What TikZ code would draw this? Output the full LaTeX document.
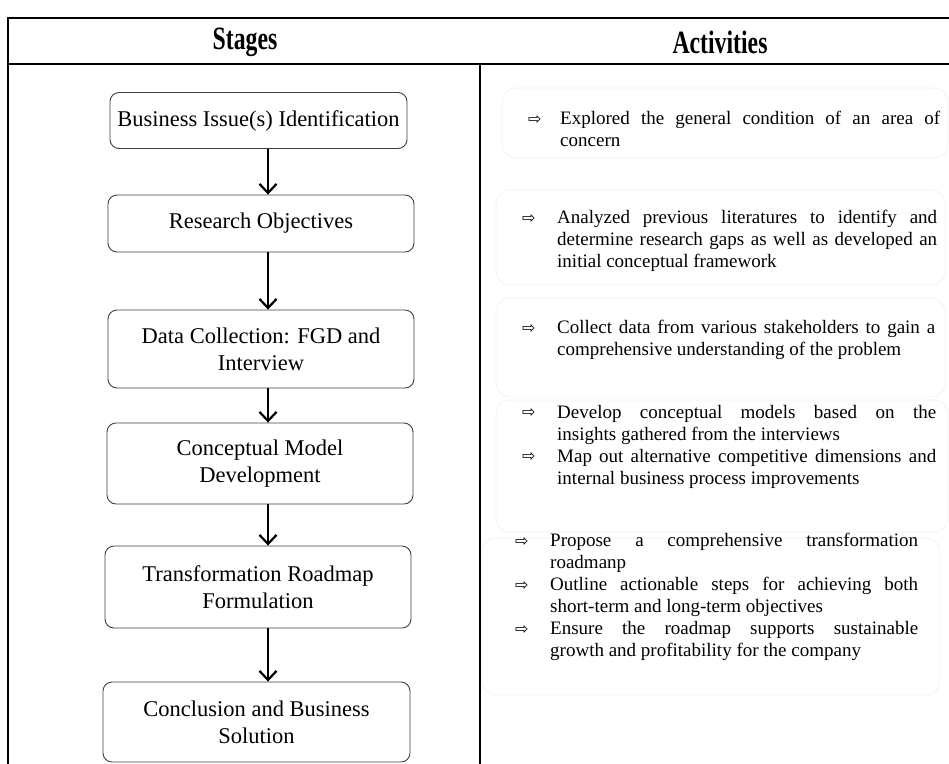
\documentclass[tikz,border=0pt]{standalone}
\usepackage{fontspec}
\setmainfont{Liberation Serif}
\newfontfamily\symfont{DejaVu Sans}
\usetikzlibrary{arrows.meta}
\newcommand{\actitem}[2]{\noindent\hangindent=#1pt\hangafter=1\makebox[#1pt][l]{\raisebox{0.5pt}{\symfont\fontsize{16}{16}\selectfont\symbol{"21E8}}}#2\par}
\begin{document}
\begin{tikzpicture}[x=1pt,y=-1pt,
  stagebox/.style={draw=black!75, line width=0.9pt, rounded corners=9pt, align=center,
    font=\fontsize{22.5}{27}\selectfont, inner sep=0pt},
  flow/.style={-{Straight Barb[length=9pt,width=17pt,line width=2.2pt]}, line width=2.6pt},
  actbox/.style={draw=black!5, line width=0.8pt, rounded corners=14pt},
  acttext/.style={anchor=north west, inner sep=0pt, align=justify,
    font=\fontsize{19}{22}\selectfont},
  head/.style={font=\fontsize{25}{30}\selectfont\bfseries, inner sep=0pt}
]
\useasboundingbox (0,0) rectangle (949,763);
\fill[white] (0,0) rectangle (949,763);

% table frame
\draw[line width=2pt] (960,18) -- (8,18) -- (8,770);
\draw[line width=2.5pt] (8,64) -- (960,64);
\draw[line width=2.5pt] (480,64) -- (480,770);

\node[head] (hs) at (245,42) {\scalebox{0.95}[1.3]{Stages}};
\node[head] (ha) at (720,42) {\scalebox{0.95}[1.3]{Activities}};

% stages
\node[stagebox, minimum width=297pt, minimum height=56pt] (b1) at (258.5,120.5) {Business Issue(s) Identification};
\node[stagebox, minimum width=306pt, minimum height=57pt] (b2) at (261,223.5) {Research Objectives};
\node[stagebox, minimum width=306pt, minimum height=78pt] (b3) at (261,349) {Data Collection: FGD and\\Interview};
\node[stagebox, minimum width=306pt, minimum height=81pt] (b4) at (260,463.5) {Conceptual Model\\Development};
\node[stagebox, minimum width=306pt, minimum height=82pt] (b5) at (258,587) {Transformation Roadmap\\Formulation};
\node[stagebox, minimum width=307pt, minimum height=80pt] (b6) at (256.5,722) {Conclusion and Business\\Solution};

\coordinate (ax) at (268,0);
\draw[flow] (b1.south -| ax) -- (b2.north -| ax);
\draw[flow] (b2.south -| ax) -- (b3.north -| ax);
\draw[flow] (b3.south -| ax) -- (b4.north -| ax);
\draw[flow] (b4.south -| ax) -- (b5.north -| ax);
\draw[flow] (b5.south -| ax) -- (b6.north -| ax);

% activity panels
\draw[actbox] (502,88) rectangle (948,158);
\draw[actbox] (496,190) rectangle (945,285);
\draw[actbox] (496,298) rectangle (945,397);
\draw[actbox] (496,400) rectangle (948,532);
\draw[actbox] (482,538) rectangle (940,695);

\node[acttext, text width=412pt] (a1) at (528,111) {%
\actitem{32}{Explored the general condition of an area of\linebreak concern}};
\node[acttext, text width=415pt] (a2) at (522,210) {%
\actitem{35}{Analyzed previous literatures to identify and\linebreak determine research gaps as well as developed an\linebreak initial conceptual framework}};
\node[acttext, text width=413pt] (a3) at (522,320) {%
\actitem{35}{Collect data from various stakeholders to gain a\linebreak comprehensive understanding of the problem}};
\node[acttext, text width=414pt] (a4) at (522,405) {%
\actitem{35}{Develop conceptual models based on the\linebreak insights gathered from the interviews}
\actitem{35}{Map out alternative competitive dimensions and\linebreak internal business process improvements}};
\node[acttext, text width=403pt] (a5) at (515,533) {%
\actitem{35}{Propose a comprehensive transformation\linebreak roadmanp}
\actitem{35}{Outline actionable steps for achieving both\linebreak short-term and long-term objectives}
\actitem{35}{Ensure the roadmap supports sustainable\linebreak growth and profitability for the company}};
\end{tikzpicture}
\end{document}
